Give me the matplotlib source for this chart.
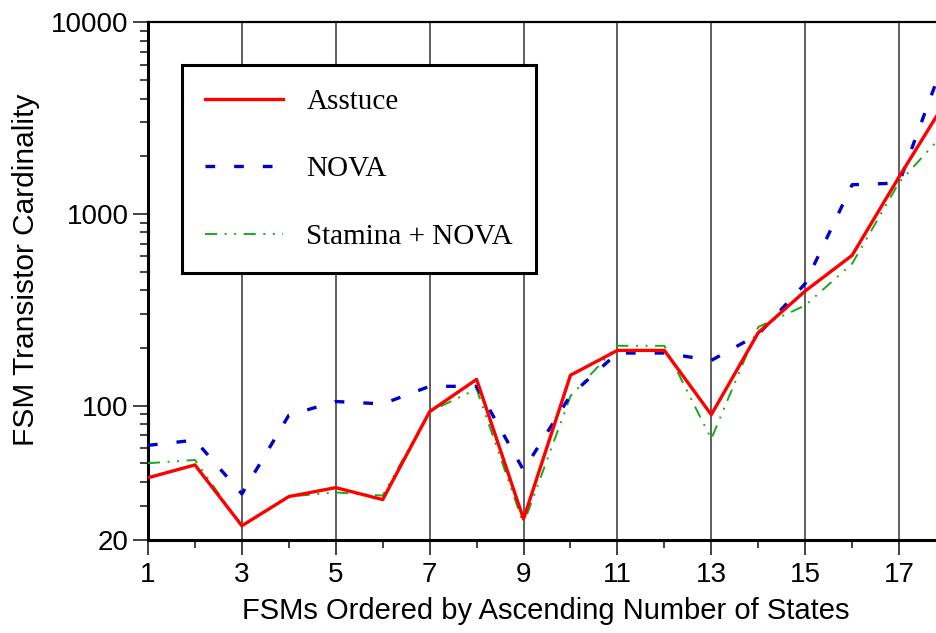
import matplotlib
matplotlib.use("Agg")
import matplotlib.pyplot as plt
from matplotlib.ticker import FixedLocator, NullFormatter

# FSM index (ordered by ascending number of states)
fsm_index = list(range(1, 19))

# Transistor counts per synthesis flow
asstuce = [42, 49, 23.6, 33.5, 37.3, 32.3, 93, 137, 25.6, 144, 194, 194, 89.6, 240, 396, 608, 1560, 3890]
nova = [62, 66, 34.6, 89, 105, 102, 126, 126, 46, 113, 188, 188, 172, 235, 433, 1420, 1450, 6700]
stamina_nova = [50, 52, 23.3, 33.5, 35.2, 33.9, 93, 122, 24.1, 112, 205, 205, 67, 257, 333, 550, 1460, 2700]

series_labels = ["Asstuce", "NOVA", "Stamina + NOVA"]
x_tick_labels = [1, 3, 5, 7, 9, 11, 13, 15, 17]
y_tick_labels = [20, 100, 1000, 10000]

plt.rcParams["font.family"] = ["Liberation Sans", "DejaVu Sans"]

W, H = 937, 633
fig = plt.figure(figsize=(W / 100, H / 100), dpi=100)
left, right, top, bottom = 148, 946, 22.3, 539.5
ax = fig.add_axes([left / W, 1 - bottom / H, (right - left) / W, (bottom - top) / H])

ax.plot(fsm_index, asstuce, color="#ff0000", lw=2.4, label=series_labels[0], zorder=5)
ax.plot(fsm_index, nova, color="#0000cc", lw=2.4, linestyle=(0, (2.9, 5.7)),
        label=series_labels[1], zorder=4)
ax.plot(fsm_index, stamina_nova, color="#1aaa1a", lw=1.4,
        linestyle=(0, (6.2, 3.9, 1.0, 3.9, 1.0, 3.9)), label=series_labels[2], zorder=3)

ax.set_yscale("log")
ax.set_ylim(20, 10000)
ax.set_xlim(1, 18)

ax.yaxis.set_major_locator(FixedLocator(y_tick_labels))
ax.set_yticklabels([str(v) for v in y_tick_labels])
minor_y = [v * d for d in (10, 100, 1000) for v in range(2, 10)]
minor_y = [m for m in minor_y if 20 < m < 10000 and m not in y_tick_labels]
ax.yaxis.set_minor_locator(FixedLocator(minor_y))
ax.yaxis.set_minor_formatter(NullFormatter())

ax.xaxis.set_major_locator(FixedLocator(x_tick_labels))
ax.set_xticklabels([str(v) for v in x_tick_labels])
ax.xaxis.set_minor_locator(FixedLocator(list(range(2, 19, 2))))

ax.tick_params(axis="both", which="major", direction="out", length=11, width=1.3,
               labelsize=20, color="#333333")
ax.tick_params(axis="both", which="minor", direction="out", length=5.5, width=1.3,
               color="#333333")
ax.tick_params(axis="x", which="major", pad=5)
ax.tick_params(axis="y", which="major", pad=3)

ax.xaxis.grid(True, which="major", color="#444444", lw=1.2)
ax.set_axisbelow(True)

for side in ("left", "bottom"):
    ax.spines[side].set_linewidth(2.2)
ax.spines["top"].set_linewidth(1.6)
ax.spines["right"].set_visible(False)

ax.set_xlabel("FSMs Ordered by Ascending Number of States", fontsize=21)
ax.xaxis.set_label_coords((546 - left) / (right - left), -(611 - bottom) / (bottom - top),
                          transform=ax.transAxes)
ax.xaxis.label.set_va("center")
ax.set_ylabel("FSM Transistor Cardinality", fontsize=21.5)
ax.yaxis.set_label_coords(-(left - 26) / (right - left), (bottom - 270) / (bottom - top),
                          transform=ax.transAxes)
ax.yaxis.label.set_va("center")

leg = ax.legend(loc="upper left",
                bbox_to_anchor=((182 - left) / (right - left), (bottom - 65) / (bottom - top)),
                bbox_transform=ax.transAxes, borderaxespad=0,
                prop={"family": ["Liberation Serif", "DejaVu Serif"], "size": 21},
                handlelength=2.67, handletextpad=0.79, labelspacing=1.41,
                borderpad=0.8, fancybox=False, framealpha=1, edgecolor="black")
leg.get_frame().set_linewidth(2.2)

fig.savefig("out.png", dpi=100)
